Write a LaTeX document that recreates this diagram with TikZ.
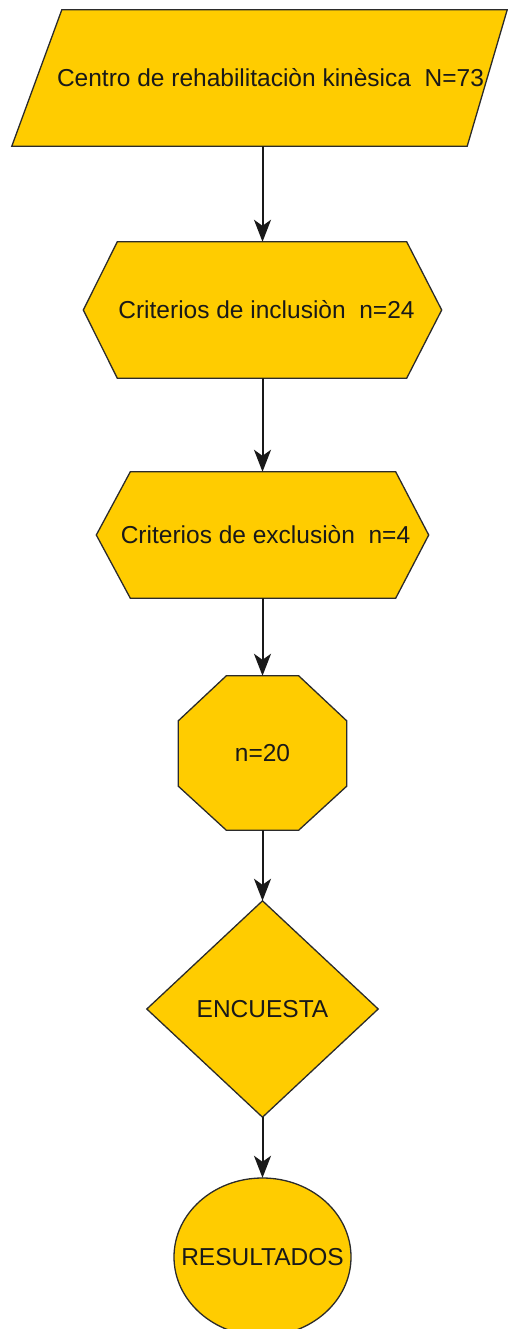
\documentclass[tikz,border=0pt]{standalone}
\usepackage{fontspec}
\setmainfont{Liberation Sans}
\usetikzlibrary{arrows.meta,backgrounds}
\definecolor{gold}{HTML}{FFCC00}
\definecolor{edge}{HTML}{2B2B2B}
\begin{document}
\begin{tikzpicture}[x=1pt,y=-1pt,
  lbl/.style={inner sep=0pt, font=\fontsize{24.5}{29}\selectfont, text=black!90},
  shp/.style={fill=gold, draw=edge, line width=1.3pt, line join=miter},
  arr/.style={draw=black!90, line width=2pt, -{Stealth[length=22pt,width=17pt,inset=6pt]}}]
\clip (0,0) rectangle (508,1329);
% nodes
\node[lbl, minimum width=495, minimum height=136] (p) at (259.5,78) {\hspace*{22pt}Centro de rehabilitaciòn kinèsica\ \ N=73};
\node[lbl, minimum width=358, minimum height=136] (h1) at (262.5,310) {\hspace*{8pt}Criterios de inclusiòn\ \ n=24};
\node[lbl, minimum width=332, minimum height=126] (h2) at (262.5,535) {\hspace*{6pt}Criterios de exclusiòn\ \ n=4};
\node[lbl, minimum width=168, minimum height=154] (o) at (262.5,753) {n=20};
\node[lbl, minimum width=231, minimum height=216] (d) at (262.5,1009) {ENCUESTA};
\node[lbl, minimum width=177, minimum height=158] (e) at (262.5,1257) {RESULTADOS};
% shapes behind
\begin{pgfonlayer}{background}
\path[shp] ([xshift=50pt]p.north west) -- (p.north east) -- ([xshift=-40pt]p.south east) -- (p.south west) -- cycle;
\path[shp] (h1.west) -- ([xshift=34pt]h1.north west) -- ([xshift=-35pt]h1.north east) -- (h1.east) -- ([xshift=-35pt]h1.south east) -- ([xshift=34pt]h1.south west) -- cycle;
\path[shp] (h2.west) -- ([xshift=34pt]h2.north west) -- ([xshift=-33pt]h2.north east) -- (h2.east) -- ([xshift=-33pt]h2.south east) -- ([xshift=34pt]h2.south west) -- cycle;
\path[shp] ([xshift=48pt]o.north west) -- ([xshift=-48pt]o.north east) -- ([yshift=-45pt]o.north east) -- ([yshift=44pt]o.south east) -- ([xshift=-48pt]o.south east) -- ([xshift=48pt]o.south west) -- ([yshift=44pt]o.south west) -- ([yshift=-45pt]o.north west) -- cycle;
\path[shp] (d.north) -- (d.east) -- (d.south) -- (d.west) -- cycle;
\path[shp] (e.center) ellipse [x radius=88.5pt, y radius=79pt];
\end{pgfonlayer}
% connectors
\draw[arr] (p.south -| h1.north) -- (h1.north);
\draw[arr] (h1.south) -- (h2.north);
\draw[arr] (h2.south) -- (o.north);
\draw[arr] (o.south) -- (d.north);
\draw[arr] (d.south) -- (e.north);
\end{tikzpicture}
\end{document}
